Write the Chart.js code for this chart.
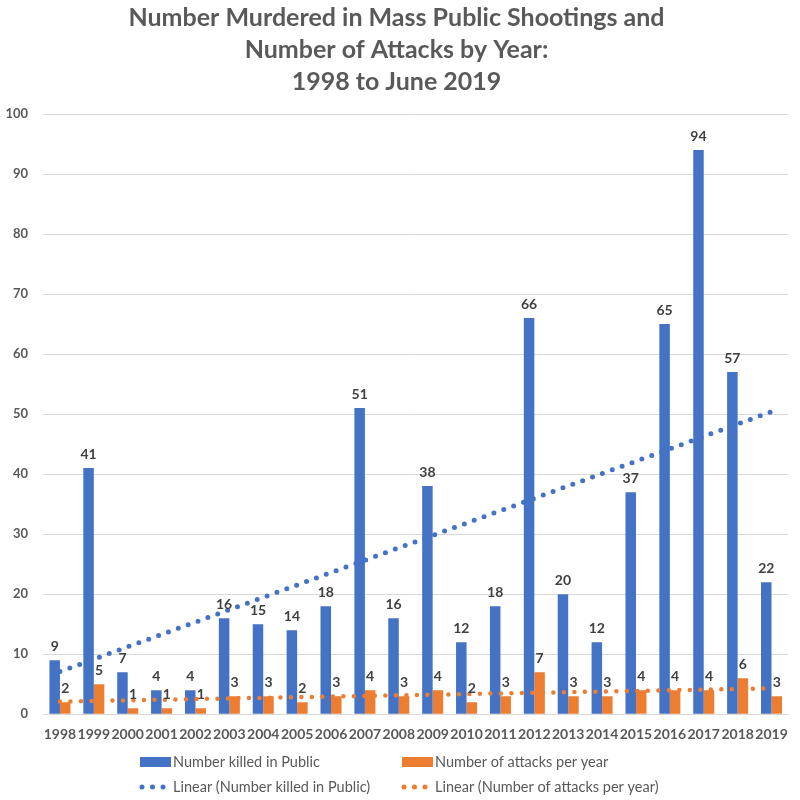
<!DOCTYPE html>
<html>
<head>
<meta charset="utf-8">
<script src="https://cdn.jsdelivr.net/npm/chart.js@4.4.1/dist/chart.umd.min.js"></script>
<style>
html,body{margin:0;padding:0;background:#fff;}
#wrap{width:800px;height:800px;}
</style>
</head>
<body>
<div id="wrap"><canvas id="c" width="800" height="800"></canvas></div>
<script>
const years = ['1998','1999','2000','2001','2002','2003','2004','2005','2006','2007','2008','2009','2010','2011','2012','2013','2014','2015','2016','2017','2018','2019'];
const killed = [9,41,7,4,4,16,15,14,18,51,16,38,12,18,66,20,12,37,65,94,57,22];
const attacks = [2,5,1,1,1,3,3,2,3,4,3,4,2,3,7,3,3,4,4,4,6,3];
// trend lines: start and end values only
const trendKilled = [7.1,null,null,null,null,null,null,null,null,null,null,null,null,null,null,null,null,null,null,null,null,50.4];
const trendAttacks = [2.1,null,null,null,null,null,null,null,null,null,null,null,null,null,null,null,null,null,null,null,null,4.3];
const yTicks = [0,10,20,30,40,50,60,70,80,90,100];
const titleLines = ['Number Murdered in Mass Public Shootings and','Number of Attacks by Year:','1998 to June 2019'];
const legendLabels = ['Number killed in Public','Number of attacks per year','Linear (Number killed in Public)','Linear (Number of attacks per year)'];

const BLUE = '#4472C4', ORANGE = '#ED7D31';

const labelPlugin = {
  id: 'barLabels',
  afterDatasetsDraw(chart) {
    const ctx = chart.ctx;
    ctx.save();
    ctx.font = 'bold 14px Lato';
    ctx.fillStyle = '#404040';
    ctx.textAlign = 'center';
    ctx.textBaseline = 'middle';
    chart.data.datasets.forEach((ds, i) => {
      if (ds.type !== 'bar') return;
      const meta = chart.getDatasetMeta(i);
      meta.data.forEach((el, j) => {
        ctx.fillText(String(ds.data[j]), el.x, el.y - 14);
      });
    });
    ctx.restore();
  }
};

const legendPlugin = {
  id: 'gridLegend',
  afterDraw(chart) {
    const ctx = chart.ctx;
    ctx.save();
    ctx.font = '14.5px Lato';
    ctx.textBaseline = 'middle';
    ctx.textAlign = 'left';
    const cols = [140, 402];
    const rows = [762, 787];
    const colors = [BLUE, ORANGE];
    for (let r = 0; r < 2; r++) {
      for (let c = 0; c < 2; c++) {
        const x = cols[c], y = rows[r];
        ctx.fillStyle = colors[c];
        if (r === 0) {
          ctx.fillRect(x, y - 5, 31, 10);
        } else {
          for (let k = 0; k < 3; k++) {
            ctx.beginPath();
            ctx.arc(x + 2 + k * 10.5, y, 2.5, 0, Math.PI * 2);
            ctx.fill();
          }
        }
        ctx.fillStyle = '#595959';
        ctx.fillText(legendLabels[r * 2 + c], x + 33, y);
      }
    }
    ctx.restore();
  }
};

new Chart(document.getElementById('c'), {
  data: {
    labels: years,
    datasets: [
      {type:'bar', label: legendLabels[0], data: killed, backgroundColor: BLUE, order: 2, categoryPercentage: 0.62, barPercentage: 1.0},
      {type:'bar', label: legendLabels[1], data: attacks, backgroundColor: ORANGE, order: 2, categoryPercentage: 0.62, barPercentage: 1.0},
      {type:'line', label: legendLabels[2], data: trendKilled, borderColor: BLUE, borderWidth: 5, borderDash: [0, 10.5], borderCapStyle: 'round', pointRadius: 0, spanGaps: true, fill: false, order: 1},
      {type:'line', label: legendLabels[3], data: trendAttacks, borderColor: ORANGE, borderWidth: 4.5, borderDash: [0, 10.5], borderCapStyle: 'round', pointRadius: 0, spanGaps: true, fill: false, order: 1}
    ]
  },
  options: {
    responsive: false,
    animation: false,
    layout: { padding: { left: 4, right: 11, top: 0, bottom: 45 } },
    plugins: {
      legend: { display: false },
      tooltip: { enabled: false },
      title: {
        display: true,
        text: titleLines,
        color: '#595959',
        font: { family: 'Lato', size: 25, weight: 'bold', lineHeight: 1.28 },
        padding: { top: 2, bottom: 16 }
      }
    },
    scales: {
      x: {
        grid: { display: false, drawTicks: false },
        border: { color: '#d9d9d9' },
        ticks: { color: '#595959', font: { family: 'Lato', size: 14, weight: 'bold' }, padding: 12, maxRotation: 0, autoSkip: false }
      },
      y: {
        min: 0, max: 100,
        afterBuildTicks(axis) { axis.ticks = yTicks.map(v => ({ value: v })); },
        afterFit(axis) { axis.width = 39; },
        grid: { color: '#d9d9d9', drawTicks: false },
        border: { display: false },
        ticks: { color: '#595959', font: { family: 'Lato', size: 13, weight: 'bold' }, padding: 15 }
      }
    }
  },
  plugins: [labelPlugin, legendPlugin]
});
</script>
</body>
</html>
